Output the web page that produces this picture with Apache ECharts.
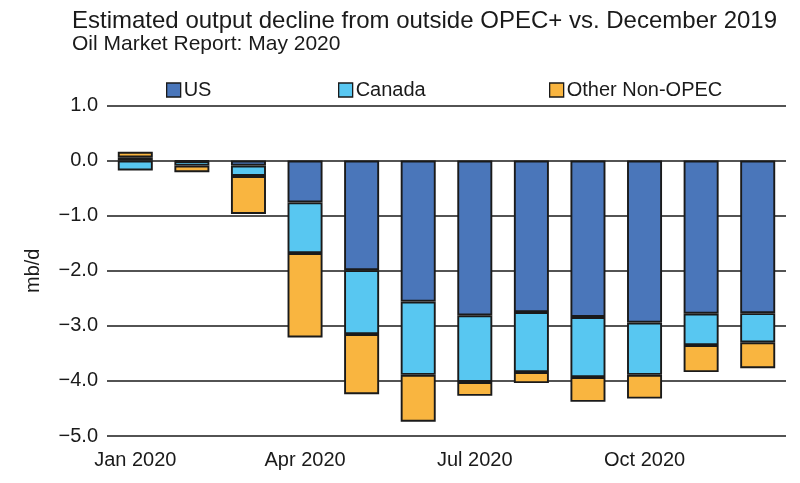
<!DOCTYPE html>
<html>
<head>
<meta charset="utf-8">
<script src="https://cdn.jsdelivr.net/npm/echarts@6/dist/echarts.min.js"></script>
<style>
  html, body { margin: 0; padding: 0; background: #ffffff; }
  #chart { width: 800px; height: 483px; }
</style>
</head>
<body>
<div id="chart"></div>
<script>
const months = ['Jan 2020','Feb 2020','Mar 2020','Apr 2020','May 2020','Jun 2020','Jul 2020','Aug 2020','Sep 2020','Oct 2020','Nov 2020','Dec 2020'];
const usValues = [0.06, -0.01, -0.09, -0.76, -1.99, -2.56, -2.81, -2.75, -2.84, -2.94, -2.78, -2.77];
const canadaValues = [-0.18, -0.08, -0.19, -0.92, -1.16, -1.33, -1.21, -1.09, -1.09, -0.95, -0.57, -0.53];
const otherValues = [0.10, -0.12, -0.69, -1.53, -1.09, -0.85, -0.25, -0.20, -0.45, -0.43, -0.49, -0.47];
const seriesNames = ['US', 'Canada', 'Other Non-OPEC'];
const titleText = 'Estimated output decline from outside OPEC+ vs. December 2019';
const subtitleText = 'Oil Market Report: May 2020';
const yAxisName = 'mb/d';

const FONT = '"Liberation Sans", Arial, Helvetica, sans-serif';
const colors = ['#4a76ba', '#58c7f1', '#f9b540'];
const border = { borderColor: '#1a1a1a', borderWidth: 1.9 };

const chart = echarts.init(document.getElementById('chart'), null, { renderer: 'canvas' });

function legendFor(name, left) {
  return {
    data: [name], left: left, top: 80, padding: 0,
    icon: 'rect', itemWidth: 14, itemHeight: 14,
    itemStyle: { borderColor: '#1a1a1a', borderWidth: 1.3 },
    textStyle: { fontFamily: FONT, fontSize: 20, color: '#1a1a1a', padding: [0, 0, 0, -2] },
    selectedMode: false
  };
}

const seriesData = [usValues, canadaValues, otherValues];

chart.setOption({
  animation: false,
  backgroundColor: '#ffffff',
  color: colors,
  title: [
    { text: titleText, left: 67, top: 4,
      textStyle: { fontFamily: FONT, fontSize: 24, fontWeight: 'normal', color: '#1a1a1a' } },
    { text: subtitleText, left: 67, top: 29,
      textStyle: { fontFamily: FONT, fontSize: 21, fontWeight: 'normal', color: '#1a1a1a' } }
  ],
  legend: [
    legendFor(seriesNames[0], 166),
    legendFor(seriesNames[1], 338),
    legendFor(seriesNames[2], 549)
  ],
  grid: { left: 107, right: 14, top: 105.5, bottom: 47, containLabel: false },
  xAxis: {
    type: 'category',
    data: months,
    axisLine: { show: false },
    axisTick: { show: false },
    axisLabel: {
      interval: 2, margin: 14,
      fontFamily: FONT, fontSize: 20, color: '#1a1a1a'
    }
  },
  yAxis: {
    type: 'value',
    min: -5, max: 1, interval: 1,
    name: yAxisName, nameLocation: 'middle', nameGap: 64,
    nameTextStyle: { fontFamily: FONT, fontSize: 20, color: '#1a1a1a' },
    axisLine: { show: false },
    axisTick: { show: false },
    axisLabel: {
      margin: 9, fontFamily: FONT, fontSize: 20, color: '#1a1a1a',
      formatter: v => (v < 0 ? '\u2212' : '') + Math.abs(v).toFixed(1)
    },
    splitLine: { show: true, lineStyle: { color: '#1a1a1a', width: 1.7 } }
  },
  series: seriesNames.map((n, i) => ({
    name: n,
    type: 'bar',
    stack: 'total',
    barWidth: 35,
    data: seriesData[i],
    itemStyle: Object.assign({ color: colors[i] }, border)
  }))
});
</script>
</body>
</html>
